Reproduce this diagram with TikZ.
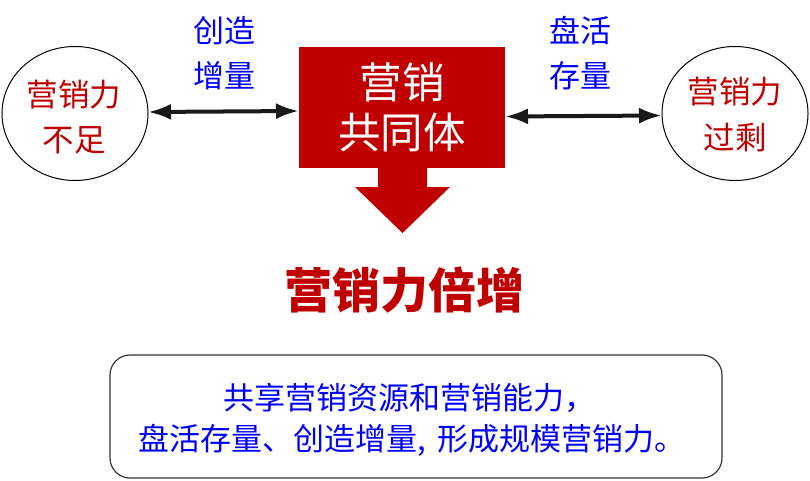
\documentclass[tikz,border=0pt]{standalone}
\usepackage{fontspec}
\setmainfont{Noto Sans CJK SC}
\newfontfamily\cjk{Noto Sans CJK SC}
\usetikzlibrary{arrows.meta,shapes.geometric}
\definecolor{dred}{HTML}{C00000}
\definecolor{lblue}{HTML}{0000FF}
\tikzset{
  lbl/.style={text=lblue,font=\cjk\fontsize{31}{31}\selectfont,inner sep=0pt},
  ctxt/.style={text=dred,font=\cjk\fontsize{31.5}{31.5}\selectfont,inner sep=0pt},
  btxt/.style={text=white,font=\cjk\fontsize{42.5}{42.5}\selectfont,inner sep=0pt},
  circ/.style={draw=black,line width=1pt,ellipse,minimum width=146pt,minimum height=134pt,inner sep=0pt},
  dbl/.style={{Latex[length=23pt,width=16pt]}-{Latex[length=23pt,width=16pt]},line width=4pt,draw=black!90},
  ntxt/.style={text=lblue,font=\cjk\fontsize{31}{31}\selectfont,inner sep=0pt}
}
\begin{document}
\begin{tikzpicture}[x=1pt,y=-1pt]
\useasboundingbox (0,0) rectangle (810,481);
% circles
\node[circ] (lc) at (75,113.5) {};
\node[circ] (rc) at (735,113.5) {};
\node[ctxt] (lc1) at (74,95) {营销力};
\node[ctxt] (lc2) at (74,140) {不足};
\node[ctxt] (rc1) at (735,92) {营销力};
\node[ctxt] (rc2) at (735,138) {过剩};
% red box
\node[fill=dred,minimum width=206pt,minimum height=121pt,inner sep=0pt] (box) at (402,107.5) {};
\fill[dred] (378,167) -- (427,167) -- (427,187) -- (450,187) -- (402.5,233) -- (355,187) -- (378,187) -- cycle;
\node[btxt] (b1) at (402,82) {营销};
\node[btxt] (b2) at (402,132) {共同体};
% arrows
\coordinate (la) at (148,112);
\coordinate (lb) at (299,111);
\coordinate (ra) at (505,116.5);
\coordinate (rb) at (662,115.5);
\draw[dbl] (la) -- (lb);
\draw[dbl] (ra) -- (rb);
% labels
\node[lbl] (l1) at (224,31) {创造};
\node[lbl] (l2) at (224,76) {增量};
\node[lbl] (r1) at (580,31) {盘活};
\node[lbl] (r2) at (580,76) {存量};
% title
\node[text=dred,font=\cjk\bfseries\fontsize{48}{48}\selectfont,inner sep=0pt] (title) at (404,290) {营销力倍增};
% bottom box
\draw[line width=1.2pt,draw=black!80,rounded corners=20pt] (110,355) rectangle (722,478);
\node[ntxt] (n1) at (409,398) {共享营销资源和营销能力，};
\node[ntxt] (n2) at (412,440) {盘活存量、创造增量,\hspace{11pt}形成规模营销力。};
\end{tikzpicture}
\end{document}
